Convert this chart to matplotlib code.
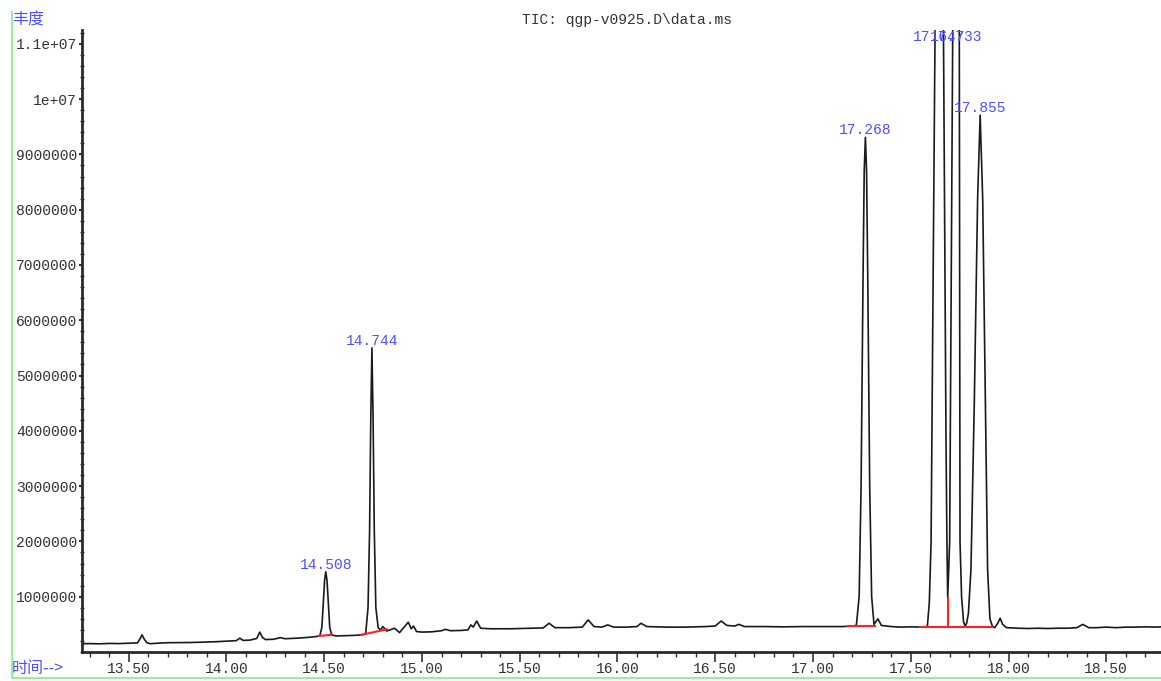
import matplotlib
import numpy as np

matplotlib.use("Agg")
import matplotlib.pyplot as plt
from matplotlib.lines import Line2D
from matplotlib.ticker import FixedLocator, MultipleLocator

# TIC trace, retention time (min) vs abundance (millions of counts)
RT_MIN = [
    13.26, 13.30, 13.35, 13.40, 13.45, 13.50, 13.545, 13.558, 13.568, 13.578,
    13.592, 13.61, 13.65, 13.70, 13.76, 13.82, 13.88, 13.94, 14.00, 14.05,
    14.068, 14.085, 14.12, 14.155, 14.17, 14.185, 14.20, 14.24, 14.275, 14.30,
    14.36, 14.42, 14.46, 14.478, 14.488, 14.496, 14.502, 14.508, 14.514, 14.520,
    14.528, 14.538, 14.56, 14.60, 14.65, 14.69, 14.712, 14.724, 14.732, 14.738,
    14.744, 14.750, 14.756, 14.764, 14.776, 14.788, 14.80, 14.82, 14.86, 14.885,
    14.93, 14.945, 14.957, 14.972, 15.00, 15.05, 15.10, 15.12, 15.145, 15.20,
    15.235, 15.25, 15.262, 15.28, 15.30, 15.35, 15.45, 15.55, 15.62, 15.65,
    15.68, 15.75, 15.82, 15.85, 15.88, 15.92, 15.95, 15.98, 16.05, 16.10,
    16.12, 16.15, 16.25, 16.35, 16.45, 16.50, 16.53, 16.56, 16.60, 16.62,
    16.65, 16.75, 16.85, 16.95, 17.05, 17.15, 17.21, 17.222, 17.236, 17.246,
    17.256, 17.262, 17.268, 17.274, 17.280, 17.290, 17.300, 17.312, 17.332, 17.35,
    17.40, 17.45, 17.50, 17.55, 17.585, 17.595, 17.604, 17.626, 17.647, 17.666,
    17.680, 17.685, 17.689, 17.699, 17.716, 17.733, 17.748, 17.752, 17.760, 17.770,
    17.778, 17.786, 17.795, 17.808, 17.825, 17.842, 17.855, 17.868, 17.882, 17.893,
    17.905, 17.918, 17.93, 17.945, 17.957, 17.97, 17.99, 18.05, 18.10, 18.15,
    18.20, 18.25, 18.30, 18.35, 18.38, 18.41, 18.45, 18.50, 18.55, 18.60,
    18.65, 18.70, 18.75, 18.78,
]
ABUND_M = [
    0.150, 0.152, 0.148, 0.155, 0.152, 0.158, 0.165, 0.24, 0.31, 0.24,
    0.17, 0.150, 0.160, 0.168, 0.170, 0.172, 0.178, 0.185, 0.195, 0.205,
    0.25, 0.21, 0.215, 0.245, 0.36, 0.26, 0.225, 0.23, 0.26, 0.24,
    0.25, 0.265, 0.28, 0.30, 0.45, 0.95, 1.3, 1.45, 1.3, 0.95,
    0.45, 0.31, 0.29, 0.295, 0.30, 0.31, 0.33, 0.8, 2.2, 4.2,
    5.5, 4.2, 2.2, 0.8, 0.44, 0.40, 0.46, 0.38, 0.43, 0.35,
    0.54, 0.42, 0.47, 0.37, 0.36, 0.365, 0.385, 0.41, 0.385, 0.39,
    0.40, 0.49, 0.45, 0.56, 0.43, 0.42, 0.42, 0.43, 0.435, 0.52,
    0.44, 0.44, 0.45, 0.58, 0.46, 0.45, 0.49, 0.45, 0.45, 0.46,
    0.52, 0.46, 0.45, 0.45, 0.46, 0.47, 0.56, 0.48, 0.47, 0.50,
    0.46, 0.46, 0.455, 0.46, 0.46, 0.46, 0.47, 0.49, 1.0, 3.0,
    6.8, 8.7, 9.31, 8.7, 6.8, 3.0, 1.0, 0.50, 0.60, 0.48,
    0.46, 0.45, 0.455, 0.45, 0.46, 0.9, 2.0, 12.0, 14.0, 12.0,
    4.0, 2.0, 0.98, 2.0, 12.0, 14.0, 12.0, 2.0, 1.0, 0.55,
    0.47, 0.52, 0.7, 1.5, 4.5, 8.2, 9.71, 8.2, 4.5, 1.5,
    0.6, 0.46, 0.44, 0.52, 0.61, 0.50, 0.44, 0.43, 0.425, 0.43,
    0.425, 0.43, 0.43, 0.44, 0.50, 0.44, 0.44, 0.45, 0.44, 0.45,
    0.45, 0.455, 0.45, 0.455,
]

# integrated peaks: apex retention time and apex abundance (millions)
PEAK_RT = [14.508, 14.744, 17.268, 17.647, 17.733, 17.855]
PEAK_HEIGHT_M = [1.45, 5.5, 9.31, 14.0, 14.0, 9.71]

# integration baselines: (rt start, abundance start, rt end, abundance end)
BASELINES = [
    (14.474, 0.29, 14.536, 0.31),
    (14.690, 0.31, 14.820, 0.41),
    (17.180, 0.47, 17.318, 0.47),
    (17.547, 0.45, 17.915, 0.45),
    (17.689, 0.45, 17.689, 0.98),
]

Y_TICKS = [1e6, 2e6, 3e6, 4e6, 5e6, 6e6, 7e6, 8e6, 9e6, 1e7, 1.1e7]
Y_TICK_LABELS = ["1000000", "2000000", "3000000", "4000000", "5000000", "6000000",
                 "7000000", "8000000", "9000000", "1e+07", "1.1e+07"]

MONO = ["Liberation Mono", "DejaVu Sans Mono"]
CJK = ["Noto Sans CJK SC", "DejaVu Sans"]
TEXT_GREY = "#333333"
LABEL_BLUE = "#4f4fff"

W, H = 1161, 681
fig = plt.figure(figsize=(W / 100, H / 100), dpi=100)
ax = fig.add_axes([82 / W, 1 - 652 / H, 1 - 82 / W, (652 - 30) / H])

rt = np.array(RT_MIN)
abund = np.array(ABUND_M) * 1e6
ax.plot(rt, abund, color="#1a1a1a", linewidth=1.2, solid_joinstyle="round")

for x0, y0, x1, y1 in BASELINES:
    ax.plot([x0, x1], [y0 * 1e6, y1 * 1e6], color="#ff2020", linewidth=1.5)

ax.set_xlim(13.261, 18.78)
ax.set_ylim(0, 1.125e7)

for t, h in zip(PEAK_RT, PEAK_HEIGHT_M):
    y = min(h * 1e6, 1.1e7)
    ax.text(t, y, f"{t:.3f}", color=LABEL_BLUE, family=MONO, fontsize=10.5,
            ha="center", va="bottom")

ax.xaxis.set_major_locator(MultipleLocator(0.5))
ax.xaxis.set_minor_locator(MultipleLocator(0.1))
ax.xaxis.set_major_formatter(lambda v, pos: f"{v:.2f}")
ax.yaxis.set_major_locator(FixedLocator(Y_TICKS))
ax.set_yticklabels(Y_TICK_LABELS)
ax.yaxis.set_minor_locator(MultipleLocator(2e5))

ax.tick_params(axis="x", which="major", direction="out", length=7, width=1.2,
               colors=TEXT_GREY, pad=0.5, labelsize=10.5)
ax.tick_params(axis="x", which="minor", direction="out", length=3.6, width=1.0, colors=TEXT_GREY)
ax.tick_params(axis="y", which="major", direction="out", length=2.5, width=1.5,
               colors=TEXT_GREY, pad=1, labelsize=10.5)
ax.tick_params(axis="y", which="minor", direction="inout", length=2.5, width=1.0, colors=TEXT_GREY)
for lab in ax.get_xticklabels() + ax.get_yticklabels():
    lab.set_family(MONO)

for side in ("top", "right"):
    ax.spines[side].set_visible(False)
for side in ("left", "bottom"):
    ax.spines[side].set_color("#2a2a2a")
    ax.spines[side].set_linewidth(2.0)

fig.text(627 / W, 1 - 20 / H, "TIC: qgp-v0925.D\\data.ms", family=MONO, fontsize=10.5,
         color=TEXT_GREY, ha="center", va="center")
fig.text(12 / W, 1 - 20 / H, "丰度", family=CJK, fontsize=11.5, color=LABEL_BLUE,
         ha="left", va="center")
fig.text(12 / W, 1 - 668 / H, "时间-->", family=CJK, fontsize=11.5, color=LABEL_BLUE,
         ha="left", va="center")

# light green frame on the left and bottom edges
frame_green = "#98f098"
fig.add_artist(Line2D([12 / W, 12 / W], [1 - 12 / H, 1 - 678 / H], color=frame_green, linewidth=1.5))
fig.add_artist(Line2D([12 / W, 1.0], [1 - 678 / H, 1 - 678 / H], color=frame_green, linewidth=1.5))

fig.savefig("out.png", dpi=100)
plt.close(fig)
